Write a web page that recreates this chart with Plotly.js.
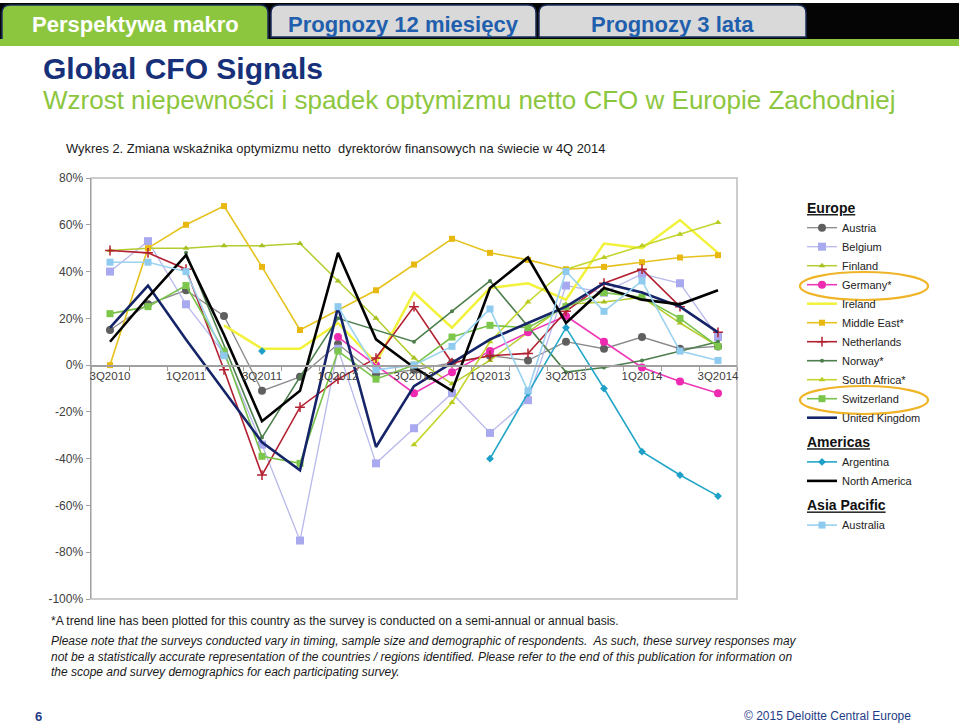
<!DOCTYPE html>
<html>
<head>
<meta charset="utf-8">
<script src="https://cdn.plot.ly/plotly-3.0.1.min.js"></script>
<style>html,body{margin:0;padding:0;background:#fff;}#chart{width:959px;height:726px;}</style>
</head>
<body>
<div id="chart"></div>
<script>
// ---------- DATA ----------
const categories = ['3Q2010','4Q2010','1Q2011','2Q2011','3Q2011','4Q2011','1Q2012','2Q2012','3Q2012','4Q2012','1Q2013','2Q2013','3Q2013','4Q2013','1Q2014','2Q2014','3Q2014'];
const tickLabels = ['3Q2010','','1Q2011','','3Q2011','','1Q2012','','3Q2012','','1Q2013','','3Q2013','','1Q2014','','3Q2014'];
const yTicks = [80, 60, 40, 20, 0, -20, -40, -60, -80, -100];
const yTickLabels = ['80%', '60%', '40%', '20%', '0%', '-20%', '-40%', '-60%', '-80%', '-100%'];

const austria      = [15, 26, 32, 21, -11, -5, 9, -4, -2, 1, 4, 2, 10, 7, 12, 7, 8];
const belgium      = [40, 53, 26, 5, -34, -75, 7, -42, -27, -12, -29, -15, 34, 31, 39, 35, 12];
const finland      = [49, 50, 50, 51, 51, 52, 36, 20, 3, -8, 2, 14, 26, 27, 29, 18, 8];
const germany      = [null, null, null, null, null, null, 12, 0, -12, -3, 6, 14, 21, 10, -1, -7, -12];
const ireland      = [null, null, null, 17, 7, 7, 18, 1, 31, 16, 33, 35, 28, 52, 50, 62, 48];
const middleEast   = [0, 50, 60, 68, 42, 15, null, 32, 43, 54, 48, 45, 41, 42, 44, 46, 47];
const netherlands  = [49, 48, 41, -2, -47, -18, -6, 3, 25, 1, 4, 5, 23, 35, 41, 25, 14];
const norway       = [null, null, 48, null, -31, -5, 20, null, 10, 23, 36, null, -3, -1, 2, 6, 10];
const southAfrica  = [null, null, null, null, null, null, null, null, -34, -16, 10, 27, 41, 46, 51, 56, 61];
const switzerland  = [22, 25, 34, 6, -39, -42, 6, -6, 0, 12, 17, 16, 25, 31, 29, 20, 8];
const unitedKingdom= [16, 34, 11, -11, -33, -45, 25, -35, -9, 1, 11, 18, 25, 35, 31, 25, 14];
const argentina    = [null, null, null, null, 6, null, null, null, null, null, -40, -12, 16, -10, -37, -47, -56];
const northAmerica = [10, 29, 47, 13, -24, -11, 48, 11, -1, -11, 33, 46, 18, 33, 28, 26, 32];
const australia    = [44, 44, 40, 4, null, null, 25, -2, 0, 8, 24, -11, 40, 23, 36, 6, 2];

// ---------- helpers ----------
const W = 959, H = 726;
const px = x => x / W;
const py = y => 1 - y / H;
const FONT = 'Liberation Sans, Arial, sans-serif';

function tr(name, y, group, gtitle, color, width, marker, extra) {
  const t = {
    type: 'scatter', x: categories, y: y, name: name,
    mode: marker ? 'lines+markers' : 'lines',
    line: {color: color, width: width},
    legendgroup: group,
    legendgrouptitle: {text: gtitle, font: {size: 14, weight: 'bold', color: '#111', lineposition: 'under', family: FONT}},
    hoverinfo: 'x+y+name'
  };
  if (marker) t.marker = marker;
  return Object.assign(t, extra || {});
}

const traces = [
  tr('Austria', austria, 'eu', 'Europe', '#8a8a8a', 1.3, {symbol: 'circle', size: 8, color: '#5f5f5f'}),
  tr('Belgium', belgium, 'eu', 'Europe', '#b8b8ec', 1.3, {symbol: 'square', size: 8, color: '#a9a9f0'}),
  tr('Finland', finland, 'eu', 'Europe', '#b5cc2e', 1.5, {symbol: 'triangle-up', size: 6, color: '#a8c020'}),
  tr('Germany*', germany, 'eu', 'Europe', '#ee3ab8', 1.6, {symbol: 'circle', size: 8, color: '#ee2ab0'}),
  tr('Ireland', ireland, 'eu', 'Europe', '#f2f23a', 2.5, null),
  tr('Middle East*', middleEast, 'eu', 'Europe', '#e6c21c', 1.6, {symbol: 'square', size: 6, color: '#e8b810'}, {connectgaps: true}),
  tr('Netherlands', netherlands, 'eu', 'Europe', '#b22030', 1.6, {symbol: 'cross-thin', size: 7, color: '#b22030', line: {color: '#b22030', width: 1.5}}),
  tr('Norway*', norway, 'eu', 'Europe', '#4d7f4d', 1.6, {symbol: 'circle', size: 4, color: '#4d7f4d'}, {connectgaps: true}),
  tr('South Africa*', southAfrica, 'eu', 'Europe', '#c5d62e', 1.6, {symbol: 'triangle-up', size: 6, color: '#b9cc22'}),
  tr('Switzerland', switzerland, 'eu', 'Europe', '#79c24a', 1.6, {symbol: 'square', size: 7, color: '#7cc64c'}),
  tr('United Kingdom', unitedKingdom, 'eu', 'Europe', '#152468', 2.6, null),
  tr('Argentina', argentina, 'am', 'Americas', '#22a6c8', 1.6, {symbol: 'diamond', size: 6, color: '#1fa0c8'}),
  tr('North America', northAmerica, 'am', 'Americas', '#000000', 2.6, null),
  tr('Australia', australia, 'ap', 'Asia Pacific', '#9ad2f0', 1.6, {symbol: 'square', size: 7, color: '#8fcbef'})
];

// ---------- decoration shapes ----------
function tabPath(x0, x1, y0, y1, r) {
  const X0 = px(x0), X1 = px(x1), Y0 = py(y0), Y1 = py(y1), rx = r / W, ry = r / H;
  return `M ${X0},${Y1} L ${X0},${Y0 - ry} Q ${X0},${Y0} ${X0 + rx},${Y0} L ${X1 - rx},${Y0} Q ${X1},${Y0} ${X1},${Y0 - ry} L ${X1},${Y1} Z`;
}
const shapes = [
  {type: 'rect', xref: 'paper', yref: 'paper', x0: 0, x1: 1, y0: py(40), y1: py(3), fillcolor: '#050505', line: {width: 0}, layer: 'below'},
  {type: 'path', xref: 'paper', yref: 'paper', path: tabPath(2, 268, 5, 41, 8), fillcolor: '#8cc63e', line: {color: '#1b2e5a', width: 1.5}, layer: 'below'},
  {type: 'path', xref: 'paper', yref: 'paper', path: tabPath(271, 536, 5, 37, 8), fillcolor: '#d9d9d9', line: {color: '#1b2e5a', width: 1.5}, layer: 'below'},
  {type: 'path', xref: 'paper', yref: 'paper', path: tabPath(539, 806, 5, 37, 8), fillcolor: '#d9d9d9', line: {color: '#1b2e5a', width: 1.5}, layer: 'below'},
  {type: 'rect', xref: 'paper', yref: 'paper', x0: 0, x1: 1, y0: py(46), y1: py(39), fillcolor: '#8cc63e', line: {width: 0}, layer: 'below'},
  // plot border
  {type: 'rect', xref: 'x domain', yref: 'y domain', x0: 0, x1: 1, y0: 0, y1: 1, line: {color: '#bdbdbd', width: 1.5}, layer: 'below'},
  // highlight ellipses in legend
  {type: 'circle', xref: 'paper', yref: 'paper', x0: px(800), x1: px(928), y0: py(300), y1: py(272), line: {color: '#f0b429', width: 2.2}},
  {type: 'circle', xref: 'paper', yref: 'paper', x0: px(800), x1: px(928), y0: py(414), y1: py(386), line: {color: '#f0b429', width: 2.2}}
];

function ann(text, x, y, size, color, opts) {
  return Object.assign({xref: 'paper', yref: 'paper', x: px(x), y: py(y), text: text, showarrow: false,
    xanchor: 'left', yanchor: 'middle', font: {family: FONT, size: size, color: color}}, opts || {});
}
const annotations = [
  ann('Perspektywa makro', 135, 24, 22, '#ffffff', {xanchor: 'center', font: {family: FONT, size: 22, color: '#fff', weight: 'bold'}}),
  ann('Prognozy 12 miesięcy', 403, 24, 22, '#1f5fad', {xanchor: 'center', font: {family: FONT, size: 22, color: '#1f5fad', weight: 'bold'}}),
  ann('Prognozy 3 lata', 672, 24, 22, '#1f5fad', {xanchor: 'center', font: {family: FONT, size: 22, color: '#1f5fad', weight: 'bold'}}),
  ann('Global CFO Signals', 41, 68, 30, '#17307a', {font: {family: FONT, size: 30, color: '#17307a', weight: 'bold'}}),
  ann('Wzrost niepewności i spadek optymizmu netto CFO w Europie Zachodniej', 41, 100, 26, '#8cc63e'),
  ann('Wykres 2. Zmiana wskaźnika optymizmu netto  dyrektorów finansowych na świecie w 4Q 2014', 64, 148, 12.9, '#1a1a1a'),
  ann('*A trend line has been plotted for this country as the survey is conducted on a semi-annual or annual basis.', 49, 621, 12, '#1a1a1a'),
  ann('<i>Please note that the surveys conducted vary in timing, sample size and demographic of respondents.  As such, these survey responses may</i>', 49, 641, 12, '#1a1a1a'),
  ann('<i>not be a statistically accurate representation of the countries / regions identified. Please refer to the end of this publication for information on</i>', 49, 657, 12, '#1a1a1a'),
  ann('<i>the scope and survey demographics for each participating survey.</i>', 49, 672, 12, '#1a1a1a'),
  ann('6', 33, 716, 13, '#1f3c88', {font: {family: FONT, size: 13, color: '#1f3c88', weight: 'bold'}}),
  ann('© 2015 Deloitte Central Europe', 913, 716, 12, '#1f3c88', {xanchor: 'right'})
];

const yDom = [py(599), py(178)];
const zeroPos = yDom[0] + (yDom[1] - yDom[0]) * (100 / 180);

const layout = {
  width: W, height: H,
  margin: {l: 0, r: 0, t: 0, b: 0},
  paper_bgcolor: '#ffffff', plot_bgcolor: '#ffffff',
  font: {family: FONT, size: 11, color: '#333'},
  showlegend: true,
  legend: {x: px(802), y: py(192), xanchor: 'left', yanchor: 'top', font: {family: FONT, size: 11, color: '#222'},
    tracegroupgap: 4, itemwidth: 30, bgcolor: 'rgba(0,0,0,0)'},
  xaxis: {type: 'category', categoryorder: 'array', categoryarray: categories,
    domain: [px(91), px(737)], range: [-0.5, 16.5], anchor: 'free', position: zeroPos,
    tickmode: 'array', tickvals: categories, ticktext: tickLabels, tickson: 'boundaries', tickangle: 0,
    ticks: 'outside', ticklen: 4, tickcolor: '#a0a0a0', showline: true, linecolor: '#a0a0a0', linewidth: 1.5,
    showgrid: false, zeroline: false, tickfont: {size: 11.5, color: '#404040'}, fixedrange: true},
  yaxis: {domain: yDom, range: [-100, 80], tickmode: 'array', tickvals: yTicks, ticktext: yTickLabels,
    ticks: 'outside', ticklen: 4, tickcolor: '#a0a0a0', showline: true, linecolor: '#a0a0a0', linewidth: 1.5,
    showgrid: false, zeroline: false, tickfont: {size: 12, color: '#404040'}, fixedrange: true},
  shapes: shapes,
  annotations: annotations
};

Plotly.newPlot('chart', traces, layout, {displayModeBar: false, staticPlot: true});
</script>
</body>
</html>
